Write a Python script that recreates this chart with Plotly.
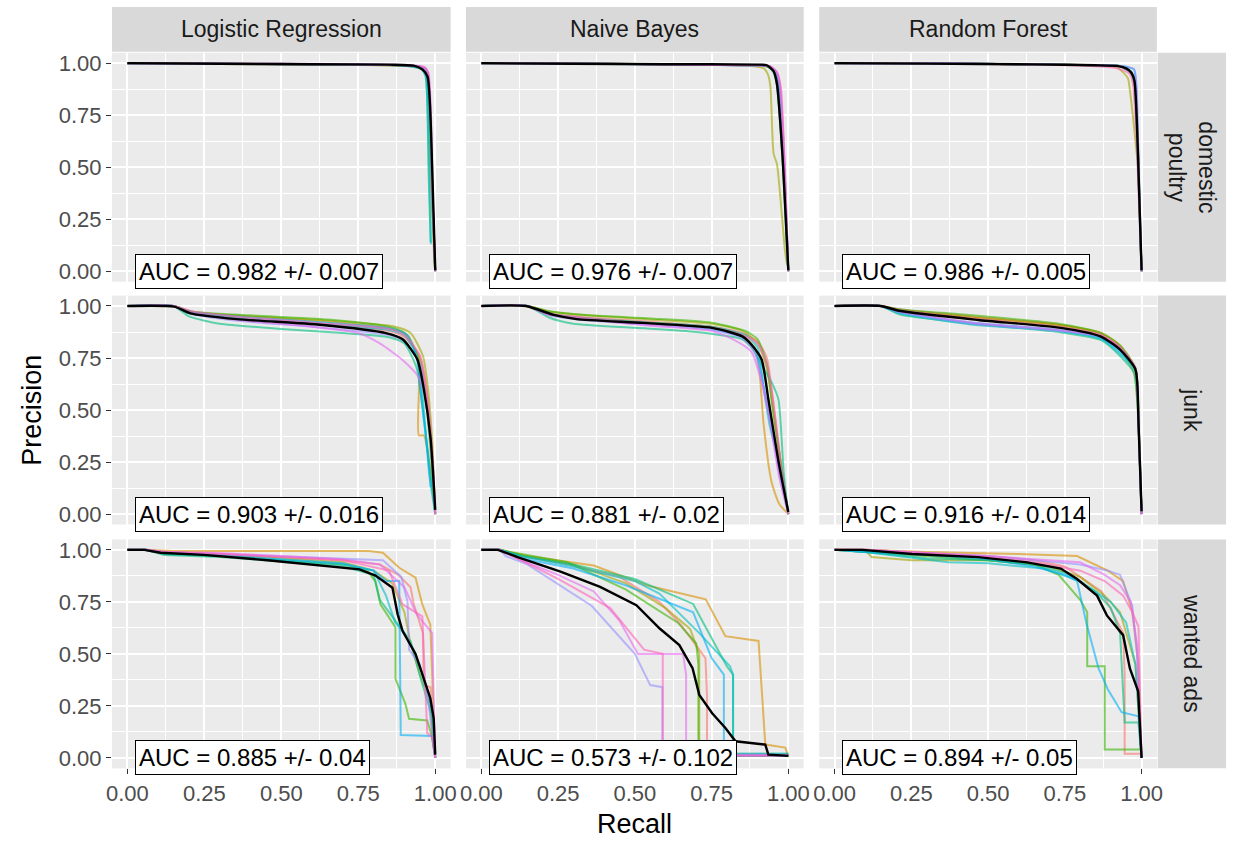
import plotly.graph_objects as go

# ---------------- data ----------------
MODELS = ["Logistic Regression", "Naive Bayes", "Random Forest"]
CLASSES = ["domestic<br>poultry", "junk", "wanted ads"]
AUC_LABELS = [
    ["AUC = 0.982 +/- 0.007", "AUC = 0.976 +/- 0.007", "AUC = 0.986 +/- 0.005"],
    ["AUC = 0.903 +/- 0.016", "AUC = 0.881 +/- 0.02", "AUC = 0.916 +/- 0.014"],
    ["AUC = 0.885 +/- 0.04", "AUC = 0.573 +/- 0.102", "AUC = 0.894 +/- 0.05"],
]
TICKS = [0, 0.25, 0.5, 0.75, 1.0]
TICK_TEXT = ["0.00", "0.25", "0.50", "0.75", "1.00"]
FOLD_COLORS = ["#F8766D", "#D89000", "#A3A500", "#39B600", "#00BF7D",
               "#00BFC4", "#00B0F6", "#9590FF", "#E76BF3", "#FF62BC"]

# each fold: (recall list, precision list); folds in FOLD_COLORS order
LR_POULTRY = [
    ([0, 0.4, 0.85, 0.95, 0.972, 0.985, 1.0], [1, 0.997, 0.99, 0.982, 0.955, 0.5, 0.0]),
    ([0, 0.5, 0.9, 0.96, 0.975, 0.99, 1.0], [1, 0.995, 0.988, 0.975, 0.94, 0.4, 0.0]),
    ([0, 0.3, 0.88, 0.955, 0.97, 0.985, 0.998], [1, 0.996, 0.99, 0.978, 0.95, 0.45, 0.02]),
    ([0, 0.5, 0.9, 0.96, 0.974, 0.988, 1.0], [1, 0.997, 0.99, 0.98, 0.96, 0.5, 0.0]),
    ([0, 0.45, 0.9, 0.955, 0.968, 0.978, 0.985], [1, 0.996, 0.988, 0.975, 0.95, 0.5, 0.14]),
    ([0, 0.5, 0.9, 0.955, 0.968, 0.98, 0.986], [1, 0.995, 0.988, 0.97, 0.94, 0.5, 0.13]),
    ([0, 0.4, 0.9, 0.96, 0.972, 0.988, 1.0], [1, 0.996, 0.99, 0.98, 0.955, 0.45, 0.0]),
    ([0, 0.5, 0.9, 0.962, 0.976, 0.99, 1.0], [1, 0.997, 0.99, 0.98, 0.95, 0.4, 0.0]),
    ([0, 0.5, 0.9, 0.965, 0.978, 0.992, 1.0], [1, 0.998, 0.992, 0.982, 0.955, 0.35, 0.0]),
    ([0, 0.4, 0.9, 0.963, 0.977, 0.99, 1.0], [1, 0.996, 0.99, 0.98, 0.95, 0.4, 0.0]),
]
LR_POULTRY_MEAN = ([0, 0.3, 0.6, 0.85, 0.93, 0.958, 0.975, 0.99, 1.0],
                   [1, 0.997, 0.995, 0.993, 0.988, 0.97, 0.935, 0.5, 0.005])

NB_POULTRY = [
    ([0, 0.4, 0.85, 0.93, 0.955, 0.968, 0.985, 1.0], [1, 0.997, 0.99, 0.985, 0.96, 0.9, 0.55, 0.0]),
    ([0, 0.4, 0.85, 0.93, 0.952, 0.963, 0.98, 1.0], [1, 0.997, 0.99, 0.985, 0.96, 0.9, 0.58, 0.0]),
    ([0, 0.4, 0.85, 0.92, 0.935, 0.942, 0.952, 0.963, 0.989, 0.996],
     [1, 0.997, 0.99, 0.975, 0.94, 0.88, 0.565, 0.515, 0.1, 0.03]),
    ([0, 0.4, 0.85, 0.93, 0.953, 0.965, 0.982, 1.0], [1, 0.997, 0.99, 0.985, 0.962, 0.9, 0.56, 0.0]),
    ([0, 0.4, 0.85, 0.93, 0.95, 0.962, 0.98, 0.998], [1, 0.996, 0.99, 0.985, 0.96, 0.9, 0.56, 0.02]),
    ([0, 0.4, 0.85, 0.93, 0.955, 0.966, 0.983, 1.0], [1, 0.997, 0.99, 0.985, 0.962, 0.9, 0.55, 0.0]),
    ([0, 0.4, 0.85, 0.935, 0.958, 0.97, 0.986, 1.0], [1, 0.997, 0.99, 0.985, 0.96, 0.9, 0.52, 0.0]),
    ([0, 0.4, 0.85, 0.94, 0.962, 0.972, 0.988, 1.0], [1, 0.997, 0.99, 0.985, 0.958, 0.9, 0.5, 0.0]),
    ([0, 0.4, 0.85, 0.94, 0.962, 0.974, 0.99, 1.0], [1, 0.997, 0.99, 0.985, 0.955, 0.88, 0.45, 0.0]),
    ([0, 0.4, 0.85, 0.94, 0.964, 0.976, 0.99, 1.0], [1, 0.997, 0.99, 0.985, 0.955, 0.88, 0.42, 0.0]),
]
NB_POULTRY_MEAN = ([0, 0.3, 0.6, 0.9, 0.93, 0.952, 0.963, 0.98, 1.0],
                   [1, 0.997, 0.995, 0.993, 0.99, 0.962, 0.9, 0.58, 0.005])

RF_POULTRY = [
    ([0, 0.4, 0.85, 0.93, 0.965, 0.977, 0.988, 1.0], [1, 0.998, 0.99, 0.985, 0.955, 0.91, 0.58, 0.0]),
    ([0, 0.4, 0.85, 0.93, 0.966, 0.978, 0.989, 1.0], [1, 0.998, 0.99, 0.985, 0.955, 0.9, 0.55, 0.0]),
    ([0, 0.4, 0.85, 0.92, 0.955, 0.962, 0.975, 0.988, 1.0], [1, 0.998, 0.99, 0.98, 0.93, 0.87, 0.7, 0.5, 0.0]),
    ([0, 0.4, 0.85, 0.93, 0.965, 0.977, 0.988, 1.0], [1, 0.998, 0.99, 0.985, 0.955, 0.9, 0.56, 0.0]),
    ([0, 0.4, 0.85, 0.93, 0.964, 0.976, 0.987, 1.0], [1, 0.998, 0.99, 0.985, 0.955, 0.9, 0.57, 0.0]),
    ([0, 0.4, 0.85, 0.93, 0.966, 0.978, 0.989, 1.0], [1, 0.998, 0.99, 0.985, 0.96, 0.9, 0.55, 0.0]),
    ([0, 0.4, 0.85, 0.94, 0.975, 0.982, 0.99, 1.0], [1, 0.998, 0.99, 0.985, 0.97, 0.9, 0.55, 0.0]),
    ([0, 0.4, 0.85, 0.94, 0.976, 0.984, 0.99, 1.0], [1, 0.998, 0.99, 0.985, 0.97, 0.88, 0.5, 0.0]),
    ([0, 0.4, 0.85, 0.93, 0.968, 0.979, 0.99, 1.0], [1, 0.998, 0.99, 0.985, 0.955, 0.9, 0.52, 0.0]),
    ([0, 0.4, 0.85, 0.92, 0.96, 0.972, 0.986, 1.0], [1, 0.998, 0.985, 0.975, 0.95, 0.9, 0.55, 0.0]),
]
RF_POULTRY_MEAN = ([0, 0.3, 0.65, 0.85, 0.924, 0.95, 0.967, 0.977, 0.988, 1.0],
                   [1, 0.998, 0.994, 0.99, 0.986, 0.975, 0.954, 0.914, 0.58, 0.005])

LR_JUNK = [
    ([0, 0.15, 0.2, 0.35, 0.6, 0.85, 0.9, 0.95, 0.97, 0.99, 1.0], [1, 1, 0.975, 0.945, 0.92, 0.88, 0.85, 0.76, 0.62, 0.3, 0.0]),
    ([0, 0.15, 0.21, 0.4, 0.65, 0.86, 0.91, 0.945, 0.947, 0.947, 0.963, 0.985, 1.0],
     [1, 1, 0.97, 0.95, 0.925, 0.89, 0.86, 0.75, 0.6, 0.378, 0.378, 0.2, 0.0]),
    ([0, 0.15, 0.22, 0.4, 0.65, 0.87, 0.92, 0.96, 0.975, 0.99, 1.0], [1, 1, 0.97, 0.95, 0.93, 0.9, 0.87, 0.76, 0.62, 0.35, 0.0]),
    ([0, 0.15, 0.2, 0.4, 0.65, 0.85, 0.9, 0.95, 0.97, 0.985, 1.0], [1, 1, 0.975, 0.955, 0.935, 0.9, 0.87, 0.74, 0.55, 0.3, 0.0]),
    ([0, 0.15, 0.2, 0.3, 0.5, 0.7, 0.85, 0.9, 0.94, 0.96, 0.98, 1.0], [1, 1, 0.95, 0.915, 0.89, 0.87, 0.85, 0.82, 0.7, 0.5, 0.25, 0.0]),
    ([0, 0.15, 0.2, 0.35, 0.6, 0.85, 0.9, 0.94, 0.96, 0.98, 1.0], [1, 1, 0.965, 0.94, 0.915, 0.885, 0.86, 0.76, 0.55, 0.2, 0.0]),
    ([0, 0.15, 0.21, 0.4, 0.65, 0.86, 0.91, 0.94, 0.955, 0.975, 0.985], [1, 1, 0.97, 0.945, 0.92, 0.89, 0.86, 0.75, 0.55, 0.3, 0.13]),
    ([0, 0.15, 0.2, 0.35, 0.6, 0.85, 0.9, 0.95, 0.97, 0.99, 1.0], [1, 1, 0.965, 0.93, 0.9, 0.86, 0.83, 0.72, 0.55, 0.25, 0.0]),
    ([0, 0.15, 0.2, 0.35, 0.6, 0.75, 0.82, 0.89, 0.945, 0.975, 0.99, 1.0], [1, 1, 0.97, 0.935, 0.9, 0.87, 0.82, 0.745, 0.66, 0.52, 0.25, 0.0]),
    ([0, 0.15, 0.21, 0.35, 0.6, 0.85, 0.9, 0.95, 0.97, 0.99, 1.0], [1, 1, 0.975, 0.95, 0.92, 0.89, 0.86, 0.76, 0.6, 0.3, 0.0]),
]
LR_JUNK_MEAN = ([0, 0.152, 0.205, 0.356, 0.625, 0.84, 0.894, 0.942, 0.963, 0.985, 1.0],
                [1.0, 0.997, 0.965, 0.937, 0.91, 0.87, 0.84, 0.743, 0.6, 0.362, 0.02])

NB_JUNK = [
    ([0, 0.145, 0.22, 0.35, 0.55, 0.75, 0.85, 0.9, 0.93, 0.95, 0.975, 1.0], [1, 1, 0.965, 0.945, 0.925, 0.9, 0.87, 0.83, 0.75, 0.55, 0.25, 0.0]),
    ([0, 0.145, 0.22, 0.35, 0.55, 0.75, 0.85, 0.89, 0.905, 0.919, 0.945, 0.97, 1.0], [1, 1, 0.96, 0.94, 0.92, 0.9, 0.86, 0.8, 0.7, 0.44, 0.157, 0.05, 0.0]),
    ([0, 0.15, 0.22, 0.35, 0.55, 0.75, 0.85, 0.9, 0.93, 0.95, 0.975, 1.0], [1, 1, 0.975, 0.955, 0.935, 0.915, 0.88, 0.82, 0.7, 0.5, 0.25, 0.0]),
    ([0, 0.15, 0.22, 0.35, 0.55, 0.75, 0.86, 0.9, 0.93, 0.95, 0.975, 1.0], [1, 1, 0.975, 0.955, 0.94, 0.92, 0.88, 0.84, 0.72, 0.5, 0.25, 0.0]),
    ([0, 0.15, 0.22, 0.3, 0.5, 0.7, 0.85, 0.88, 0.92, 0.95, 0.968, 0.985, 1.0], [1, 1, 0.945, 0.915, 0.895, 0.875, 0.84, 0.8, 0.7, 0.62, 0.55, 0.2, 0.0]),
    ([0, 0.15, 0.22, 0.35, 0.55, 0.75, 0.86, 0.9, 0.92, 0.94, 0.97, 1.0], [1, 1, 0.96, 0.94, 0.92, 0.9, 0.86, 0.8, 0.6, 0.42, 0.25, 0.0]),
    ([0, 0.15, 0.22, 0.35, 0.55, 0.75, 0.85, 0.89, 0.915, 0.94, 0.97, 1.0], [1, 1, 0.96, 0.935, 0.915, 0.89, 0.85, 0.8, 0.65, 0.45, 0.22, 0.0]),
    ([0, 0.15, 0.22, 0.35, 0.55, 0.75, 0.85, 0.89, 0.92, 0.95, 0.97, 1.0], [1, 1, 0.955, 0.93, 0.91, 0.885, 0.845, 0.78, 0.6, 0.4, 0.2, 0.0]),
    ([0, 0.15, 0.22, 0.35, 0.55, 0.75, 0.82, 0.88, 0.91, 0.94, 0.97, 1.0], [1, 1, 0.96, 0.935, 0.905, 0.88, 0.84, 0.78, 0.65, 0.45, 0.18, 0.0]),
    ([0, 0.15, 0.22, 0.35, 0.55, 0.75, 0.85, 0.9, 0.93, 0.95, 0.975, 1.0], [1, 1, 0.96, 0.94, 0.915, 0.895, 0.86, 0.82, 0.72, 0.55, 0.25, 0.0]),
]
NB_JUNK_MEAN = ([0, 0.145, 0.236, 0.31, 0.526, 0.752, 0.85, 0.88, 0.913, 0.935, 0.968, 1.0],
                [1, 1, 0.957, 0.937, 0.919, 0.895, 0.854, 0.814, 0.743, 0.552, 0.252, 0.01])

RF_JUNK = [
    ([0, 0.15, 0.21, 0.45, 0.73, 0.87, 0.93, 0.98, 0.99, 1.0], [1, 1, 0.985, 0.95, 0.91, 0.865, 0.8, 0.7, 0.44, 0.0]),
    ([0, 0.15, 0.21, 0.45, 0.73, 0.87, 0.93, 0.98, 0.99, 1.0], [1, 1, 0.98, 0.945, 0.91, 0.87, 0.81, 0.7, 0.45, 0.0]),
    ([0, 0.15, 0.21, 0.45, 0.73, 0.87, 0.93, 0.975, 0.99, 1.0], [1, 1, 0.98, 0.945, 0.905, 0.86, 0.79, 0.68, 0.44, 0.0]),
    ([0, 0.15, 0.21, 0.45, 0.73, 0.87, 0.93, 0.98, 0.99, 1.0], [1, 1, 0.985, 0.955, 0.915, 0.87, 0.81, 0.7, 0.44, 0.0]),
    ([0, 0.15, 0.21, 0.45, 0.73, 0.87, 0.93, 0.975, 0.99, 1.0], [1, 1, 0.96, 0.915, 0.875, 0.835, 0.76, 0.68, 0.44, 0.0]),
    ([0, 0.15, 0.21, 0.45, 0.73, 0.87, 0.93, 0.98, 0.99, 1.0], [1, 1, 0.965, 0.91, 0.88, 0.84, 0.77, 0.69, 0.44, 0.0]),
    ([0, 0.15, 0.21, 0.45, 0.73, 0.87, 0.93, 0.98, 0.99, 1.0], [1, 1, 0.97, 0.92, 0.885, 0.845, 0.78, 0.69, 0.44, 0.0]),
    ([0, 0.15, 0.21, 0.45, 0.73, 0.87, 0.93, 0.98, 0.99, 1.0], [1, 1, 0.97, 0.915, 0.88, 0.85, 0.79, 0.7, 0.45, 0.0]),
    ([0, 0.15, 0.21, 0.45, 0.73, 0.87, 0.93, 0.98, 0.99, 1.0], [1, 1, 0.975, 0.92, 0.885, 0.855, 0.8, 0.7, 0.44, 0.0]),
    ([0, 0.15, 0.21, 0.45, 0.73, 0.87, 0.93, 0.98, 0.99, 1.0], [1, 1, 0.98, 0.94, 0.9, 0.86, 0.8, 0.7, 0.45, 0.0]),
]
RF_JUNK_MEAN = ([0, 0.15, 0.21, 0.467, 0.737, 0.866, 0.93, 0.98, 0.99, 1.0],
                [1, 1, 0.977, 0.933, 0.895, 0.854, 0.79, 0.695, 0.443, 0.014])

LR_WANTED = [
    ([0, 0.06, 0.12, 0.3, 0.5, 0.7, 0.82, 0.88, 0.92, 0.93, 0.96, 0.963, 0.985, 0.99, 1.0],
     [1, 1, 0.99, 0.98, 0.965, 0.95, 0.93, 0.88, 0.82, 0.74, 0.6, 0.35, 0.34, 0.1, 0.0]),
    ([0, 0.06, 0.15, 0.46, 0.785, 0.83, 0.883, 0.936, 0.958, 0.984, 0.995, 1.0],
     [1, 1, 0.995, 0.996, 0.994, 0.986, 0.914, 0.866, 0.738, 0.64, 0.176, 0.0]),
    ([0, 0.06, 0.12, 0.3, 0.5, 0.7, 0.8, 0.86, 0.9, 0.92, 0.95, 0.98, 1.0],
     [1, 1, 0.985, 0.975, 0.96, 0.94, 0.9, 0.84, 0.7, 0.55, 0.4, 0.3, 0.0]),
    ([0, 0.06, 0.12, 0.3, 0.5, 0.7, 0.78, 0.806, 0.822, 0.871, 0.871, 0.903, 0.915, 0.974, 0.99, 1.0],
     [1, 1, 0.98, 0.97, 0.95, 0.93, 0.9, 0.847, 0.738, 0.627, 0.38, 0.26, 0.188, 0.18, 0.1, 0.0]),
    ([0, 0.06, 0.12, 0.3, 0.5, 0.7, 0.8, 0.82, 0.86, 0.92, 0.955, 0.99, 1.0],
     [1, 1, 0.975, 0.965, 0.945, 0.92, 0.88, 0.76, 0.68, 0.56, 0.37, 0.2, 0.0]),
    ([0, 0.06, 0.12, 0.3, 0.5, 0.7, 0.8, 0.84, 0.87, 0.9, 0.93, 0.96, 0.99, 1.0],
     [1, 1, 0.98, 0.97, 0.95, 0.93, 0.9, 0.78, 0.65, 0.6, 0.52, 0.4, 0.22, 0.0]),
    ([0, 0.06, 0.12, 0.3, 0.5, 0.7, 0.8, 0.84, 0.883, 0.888, 0.99, 0.995, 1.0],
     [1, 1, 0.985, 0.975, 0.955, 0.935, 0.9, 0.85, 0.85, 0.11, 0.105, 0.05, 0.0]),
    ([0, 0.06, 0.12, 0.3, 0.5, 0.7, 0.83, 0.89, 0.91, 0.915, 0.95, 0.975, 1.0],
     [1, 1, 0.99, 0.98, 0.97, 0.96, 0.95, 0.87, 0.75, 0.52, 0.45, 0.3, 0.0]),
    ([0, 0.06, 0.12, 0.3, 0.5, 0.7, 0.82, 0.9, 0.94, 0.99, 0.995, 1.0],
     [1, 1, 0.99, 0.985, 0.97, 0.955, 0.93, 0.82, 0.69, 0.6, 0.3, 0.0]),
    ([0, 0.06, 0.12, 0.3, 0.5, 0.7, 0.85, 0.894, 0.958, 0.974, 0.99, 1.0],
     [1, 1, 0.99, 0.98, 0.965, 0.95, 0.9, 0.738, 0.68, 0.12, 0.1, 0.0]),
]
LR_WANTED_MEAN = ([0, 0.055, 0.108, 0.248, 0.463, 0.625, 0.754, 0.806, 0.861, 0.878, 0.894, 0.936, 0.958, 0.984, 0.995, 1.0],
                  [1, 1, 0.986, 0.976, 0.949, 0.925, 0.906, 0.876, 0.818, 0.69, 0.61, 0.5, 0.4, 0.287, 0.19, 0.016])

NB_WANTED = [
    ([0, 0.06, 0.13, 0.28, 0.45, 0.58, 0.65, 0.73, 0.735, 0.735, 1.0], [1, 1, 0.97, 0.93, 0.87, 0.75, 0.64, 0.48, 0.3, 0.01, 0.01]),
    ([0, 0.06, 0.15, 0.366, 0.538, 0.688, 0.731, 0.795, 0.903, 0.925, 0.99, 1.0], [1, 1, 0.97, 0.925, 0.83, 0.78, 0.762, 0.585, 0.562, 0.064, 0.05, 0.01]),
    ([0, 0.06, 0.14, 0.3, 0.47, 0.6, 0.68, 0.71, 0.71, 1.0], [1, 1, 0.97, 0.93, 0.84, 0.72, 0.62, 0.5, 0.01, 0.01]),
    ([0, 0.06, 0.13, 0.28, 0.47, 0.64, 0.7, 0.707, 0.707, 1.0], [1, 1, 0.98, 0.94, 0.81, 0.65, 0.55, 0.45, 0.01, 0.01]),
    ([0, 0.06, 0.13, 0.3, 0.5, 0.69, 0.8, 0.82, 0.82, 1.0], [1, 1, 0.97, 0.93, 0.86, 0.74, 0.44, 0.4, 0.02, 0.02]),
    ([0, 0.06, 0.13, 0.3, 0.5, 0.58, 0.71, 0.81, 0.82, 0.82, 1.0], [1, 1, 0.97, 0.92, 0.85, 0.79, 0.6, 0.44, 0.4, 0.02, 0.02]),
    ([0, 0.06, 0.13, 0.3, 0.47, 0.69, 0.75, 0.79, 0.79, 1.0], [1, 1, 0.96, 0.91, 0.83, 0.7, 0.48, 0.4, 0.01, 0.01]),
    ([0, 0.06, 0.08, 0.15, 0.36, 0.5, 0.55, 0.59, 0.59, 1.0], [1, 1, 0.97, 0.93, 0.73, 0.5, 0.35, 0.34, 0.01, 0.01]),
    ([0, 0.06, 0.13, 0.25, 0.366, 0.45, 0.51, 0.657, 0.667, 0.667, 1.0], [1, 1, 0.95, 0.88, 0.8, 0.66, 0.5, 0.5, 0.4, 0.015, 0.015]),
    ([0, 0.06, 0.13, 0.25, 0.42, 0.53, 0.591, 0.591, 1.0], [1, 1, 0.95, 0.86, 0.72, 0.52, 0.5, 0.01, 0.01]),
]
NB_WANTED_MEAN = ([0, 0.054, 0.118, 0.258, 0.387, 0.505, 0.581, 0.645, 0.688, 0.71, 0.752, 0.795, 0.828, 0.925, 0.935, 1.0],
                  [1, 1, 0.965, 0.895, 0.822, 0.734, 0.622, 0.542, 0.431, 0.303, 0.215, 0.144, 0.08, 0.064, 0.016, 0.01])

RF_WANTED = [
    ([0, 0.1, 0.3, 0.5, 0.65, 0.75, 0.87, 0.94, 0.945, 0.945, 1.0], [1, 0.99, 0.98, 0.97, 0.95, 0.92, 0.8, 0.6, 0.4, 0.02, 0.02]),
    ([0, 0.1, 0.3, 0.6, 0.79, 0.89, 0.94, 0.97, 0.99, 1.0], [1, 1, 0.99, 0.98, 0.97, 0.9, 0.85, 0.7, 0.45, 0.0]),
    ([0, 0.1, 0.12, 0.25, 0.5, 0.7, 0.8, 0.88, 0.93, 0.96, 0.98, 1.0], [1, 1, 0.965, 0.95, 0.95, 0.92, 0.87, 0.78, 0.7, 0.55, 0.45, 0.0]),
    ([0, 0.1, 0.3, 0.5, 0.65, 0.73, 0.8, 0.823, 0.823, 0.88, 0.88, 1.0], [1, 0.99, 0.97, 0.95, 0.93, 0.88, 0.76, 0.7, 0.44, 0.44, 0.04, 0.04]),
    ([0, 0.1, 0.3, 0.5, 0.65, 0.75, 0.85, 0.9, 0.93, 0.945, 0.99, 1.0], [1, 0.99, 0.96, 0.95, 0.93, 0.89, 0.8, 0.72, 0.6, 0.17, 0.17, 0.0]),
    ([0, 0.1, 0.37, 0.5, 0.68, 0.8, 0.9, 0.95, 0.98, 1.0], [1, 0.99, 0.94, 0.935, 0.91, 0.85, 0.75, 0.65, 0.45, 0.0]),
    ([0, 0.1, 0.3, 0.5, 0.65, 0.75, 0.79, 0.82, 0.86, 0.89, 0.935, 0.99, 1.0], [1, 0.99, 0.975, 0.955, 0.92, 0.88, 0.85, 0.65, 0.43, 0.33, 0.22, 0.2, 0.0]),
    ([0, 0.1, 0.3, 0.5, 0.65, 0.8, 0.89, 0.93, 0.97, 0.985, 1.0], [1, 1, 0.985, 0.97, 0.95, 0.93, 0.9, 0.88, 0.73, 0.5, 0.0]),
    ([0, 0.1, 0.3, 0.5, 0.65, 0.8, 0.88, 0.93, 0.965, 0.985, 1.0], [1, 1, 0.985, 0.97, 0.955, 0.94, 0.88, 0.83, 0.75, 0.55, 0.0]),
    ([0, 0.1, 0.3, 0.5, 0.65, 0.8, 0.88, 0.94, 0.97, 0.99, 1.0], [1, 1, 0.985, 0.965, 0.94, 0.9, 0.85, 0.78, 0.7, 0.63, 0.0]),
]
RF_WANTED_MEAN = ([0, 0.09, 0.252, 0.467, 0.628, 0.737, 0.79, 0.855, 0.887, 0.94, 0.962, 0.989, 1.0],
                  [1, 1, 0.98, 0.965, 0.94, 0.91, 0.86, 0.78, 0.685, 0.59, 0.43, 0.32, 0.0])

PANEL_FOLDS = [[LR_POULTRY, NB_POULTRY, RF_POULTRY],
               [LR_JUNK, NB_JUNK, RF_JUNK],
               [LR_WANTED, NB_WANTED, RF_WANTED]]
PANEL_MEANS = [[LR_POULTRY_MEAN, NB_POULTRY_MEAN, RF_POULTRY_MEAN],
               [LR_JUNK_MEAN, NB_JUNK_MEAN, RF_JUNK_MEAN],
               [LR_WANTED_MEAN, NB_WANTED_MEAN, RF_WANTED_MEAN]]

# ---------------- layout geometry (pixels) ----------------
W, H = 1235, 841
COL_PX = [(107, 449), (464.5, 805.5), (821.2, 1162.2)]
ROW_PX = [(51, 281), (295, 525), (540, 770)]
TOP_STRIP = (5, 50)
RIGHT_STRIP = (1163, 1232)
FONT = "Liberation Sans, Arial, sans-serif"
TICK_SIZE = 22

fig = go.Figure()
layout = dict(
    width=W, height=H, margin=dict(l=0, r=0, t=0, b=0),
    paper_bgcolor="white", plot_bgcolor="#EBEBEB", showlegend=False,
    font=dict(family=FONT),
)
shapes, annotations = [], []

for i in range(3):
    for j in range(3):
        k = i * 3 + j + 1
        xs = "" if k == 1 else str(k)
        x0, x1 = COL_PX[j]
        y0, y1 = ROW_PX[i]
        bottom = (i == 2)
        left = (j == 0)
        common = dict(
            range=[-0.05, 1.05], tickvals=TICKS, ticktext=TICK_TEXT,
            ticklen=5, tickwidth=1.3, tickcolor="#333333",
            tickfont=dict(size=TICK_SIZE, color="#4D4D4D", family=FONT),
            showgrid=True, gridcolor="white", gridwidth=1.8, zeroline=False, showline=False,
            minor=dict(tick0=0.125, dtick=0.25, showgrid=True, gridcolor="white", gridwidth=0.9),
            fixedrange=True,
        )
        layout["xaxis" + xs] = dict(common, domain=[x0 / W, x1 / W], anchor="y" + xs,
                                    showticklabels=bottom, ticks="outside" if bottom else "")
        layout["yaxis" + xs] = dict(common, domain=[1 - y1 / H, 1 - y0 / H], anchor="x" + xs,
                                    showticklabels=left, ticks="outside" if left else "")
        smooth = i < 2
        shape = dict(shape="spline", smoothing=0.6) if smooth else dict(shape="linear")
        for f, (rec, prec) in enumerate(PANEL_FOLDS[i][j]):
            fig.add_trace(go.Scatter(
                x=rec, y=prec, mode="lines", xaxis="x" + xs, yaxis="y" + xs,
                line=dict(color=FOLD_COLORS[f], width=2.0, **shape), opacity=0.6, hoverinfo="skip"))
        mr, mp = PANEL_MEANS[i][j]
        fig.add_trace(go.Scatter(
            x=mr, y=mp, mode="lines", xaxis="x" + xs, yaxis="y" + xs,
            line=dict(color="black", width=2.4, **shape), hoverinfo="skip"))
        annotations.append(dict(
            x=0.025, y=0.0, xref="x" + xs, yref="y" + xs, xanchor="left", yanchor="middle",
            text=AUC_LABELS[i][j], showarrow=False, bgcolor="white", bordercolor="black",
            borderwidth=1, borderpad=3, font=dict(size=24, color="black", family=FONT)))

# top strips
for j, name in enumerate(MODELS):
    x0, x1 = COL_PX[j]
    shapes.append(dict(type="rect", xref="paper", yref="paper", x0=x0 / W, x1=x1 / W,
                       y0=1 - TOP_STRIP[1] / H, y1=1 - TOP_STRIP[0] / H,
                       fillcolor="#D9D9D9", line=dict(width=0), layer="below"))
    annotations.append(dict(x=(x0 + x1) / 2 / W, y=1 - (TOP_STRIP[0] + TOP_STRIP[1]) / 2 / H,
                            xref="paper", yref="paper", xanchor="center", yanchor="middle",
                            text=name, showarrow=False,
                            font=dict(size=23, color="#1A1A1A", family=FONT)))
# right strips
for i, name in enumerate(CLASSES):
    y0, y1 = ROW_PX[i]
    shapes.append(dict(type="rect", xref="paper", yref="paper",
                       x0=RIGHT_STRIP[0] / W, x1=RIGHT_STRIP[1] / W,
                       y0=1 - y1 / H, y1=1 - y0 / H,
                       fillcolor="#D9D9D9", line=dict(width=0), layer="below"))
    annotations.append(dict(x=(RIGHT_STRIP[0] + RIGHT_STRIP[1]) / 2 / W, y=1 - (y0 + y1) / 2 / H,
                            xref="paper", yref="paper", xanchor="center", yanchor="middle",
                            text=name, showarrow=False, textangle=90,
                            font=dict(size=23, color="#1A1A1A", family=FONT)))

# axis titles
annotations.append(dict(x=634.6 / W, y=1 - 826 / H, xref="paper", yref="paper",
                        xanchor="center", yanchor="middle", text="Recall",
                        showarrow=False, font=dict(size=27, color="black", family=FONT)))
annotations.append(dict(x=26 / W, y=1 - 410 / H, xref="paper", yref="paper",
                        xanchor="center", yanchor="middle", text="Precision",
                        textangle=-90, showarrow=False, font=dict(size=27, color="black", family=FONT)))

layout["shapes"] = shapes
layout["annotations"] = annotations
fig.update_layout(**layout)
fig.write_html("out.html", config={"displayModeBar": False},
               post_script="document.body.style.margin='0px';document.body.style.overflow='hidden';")
